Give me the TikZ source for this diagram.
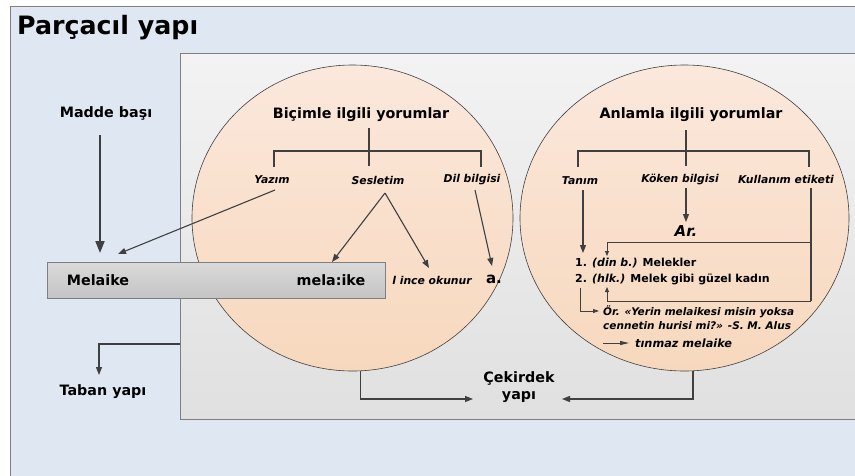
\documentclass[tikz,border=0pt]{standalone}
\usepackage{fontspec}
\setmainfont{DejaVu Sans}
\usetikzlibrary{arrows.meta,shapes.geometric}
\definecolor{bluebg}{HTML}{DFE8F2}
\definecolor{frame}{HTML}{7F7F7F}
\definecolor{ink}{HTML}{404040}
\definecolor{peachtop}{HTML}{FBE8DC}
\definecolor{peachbot}{HTML}{F7D8BD}
\definecolor{graytop}{HTML}{F3F3F3}
\definecolor{graybot}{HTML}{E0E0E0}
\definecolor{boxtop}{HTML}{DADADA}
\definecolor{boxbot}{HTML}{C4C4C4}
\tikzset{
  lbl/.style={font=\bfseries\fontsize{14.3}{17}\selectfont, text=black, inner sep=1pt},
  sm/.style={font=\bfseries\itshape\fontsize{10.8}{13}\selectfont, text=black, inner sep=1pt},
  arr/.style={draw=ink, line width=1.1pt, -{Triangle[length=8pt,width=6pt]}},
  tree/.style={draw=ink, line width=1.8pt},
  conn/.style={draw=ink, line width=1.1pt},
  circ/.style={ellipse, draw=ink, line width=0.6pt, top color=peachtop, bottom color=peachbot, inner sep=0pt}
}
\begin{document}
\begin{tikzpicture}[x=1pt,y=-1pt]
\useasboundingbox (0,0) rectangle (855,475);
\fill[white] (0,0) rectangle (855,475);
% outer frame
\fill[bluebg] (10,6) rectangle (870,490);
\draw[frame, line width=1pt] (10,490) -- (10,6) -- (870,6);
% inner gray box
\shade[top color=graytop, bottom color=graybot] (180,53) rectangle (870,419);
\draw[frame, line width=1pt] (870,53) -- (180,53) -- (180,419) -- (870,419);
\node[font=\bfseries\fontsize{25.3}{30}\selectfont, anchor=west, inner sep=0pt] (title) at (17,28) {Parçacıl yapı};
% circles
\node[circ, minimum width=321pt, minimum height=306pt] (c1) at (352.5,218) {};
\node[circ, minimum width=329pt, minimum height=306pt] (c2) at (684.5,218) {};
% left side
\node[lbl] (madde) at (106,113) {Madde başı};
\coordinate (mtop) at (100,135);
\coordinate (mtip) at (100,253);
\draw[arr, line width=2pt, -{Triangle[length=12pt,width=9pt]}] (mtop) -- (mtip);
% Melaike box
\node[draw=frame, line width=1pt, top color=boxtop, bottom color=boxbot, minimum width=338pt, minimum height=36pt, inner sep=0pt] (box) at (216,280) {};
\node[lbl] (melaike) at (98,280) {Melaike};
\node[lbl] (melaike2) at (331,280) {mela:ike};
% Taban
\node[lbl] (taban) at (103,392) {Taban yapı};
\coordinate (innerL) at (180,344);
\coordinate (tbtip) at (99,375);
\draw[arr] (innerL) -| (tbtip);
% Biçimle tree
\node[lbl] (bic) at (361,115) {Biçimle ilgili yorumlar};
\node[sm] (yazim) at (272,180) {Yazım};
\node[sm] (ses) at (378,180) {Sesletim};
\node[sm] (dil) at (472,180) {Dil bilgisi};
\draw[tree] (369,128) -- (369,166);
\draw[tree] (274,167) -- (274,151) -- (481,151) -- (481,167);
\node[sm] (ince) at (432,280) {l ince okunur};
\node[font=\bfseries\fontsize{15}{18}\selectfont, inner sep=1pt] (a) at (494,279) {a.};
\coordinate (ytip) at (118,254);
\draw[arr] (275,190) -- (ytip);
\coordinate (sapex) at (385,193);
\coordinate (stip1) at (332,262);
\coordinate (stip2) at (429,268);
\draw[arr] (sapex) -- (stip1);
\draw[arr] (sapex) -- (stip2);
\coordinate (dtop) at (475,190);
\coordinate (dtip) at (492,266);
\draw[arr] (dtop) -- (dtip);
% Çekirdek
\node[lbl, align=center] (cek) at (519,387) {Çekirdek\\yapı};
\coordinate (ck1) at (473,399);
\coordinate (ck2) at (562,399);
\draw[arr] ([xshift=8pt]c1.south) |- (ck1);
\draw[arr] ([xshift=8.5pt]c2.south) |- (ck2);
% Anlamla tree
\node[lbl] (anl) at (691,115) {Anlamla ilgili yorumlar};
\draw[tree] (686,130) -- (686,166);
\draw[tree] (578,167) -- (578,151) -- (809,151) -- (809,167);
\node[sm] (tanim) at (580,181) {Tanım};
\node[sm] (koken) at (680,179) {Köken bilgisi};
\node[sm] (kull) at (786,179) {Kullanım etiketi};
\node[font=\bfseries\itshape\fontsize{15}{18}\selectfont, inner sep=1pt] (ar) at (686,231) {Ar.};
\coordinate (ttop) at (583,190);
\coordinate (ttip) at (583,253);
\draw[arr] (ttop) -- (ttip);
\coordinate (ktop) at (686,188);
\coordinate (ktip) at (686,222);
\draw[arr] (ktop) -- (ktip);
\node[font=\bfseries\fontsize{11}{13}\selectfont, anchor=west, inner sep=0pt] (def1) at (575,263) {1. \textit{(din b.)} Melekler};
\node[font=\bfseries\fontsize{11}{13}\selectfont, anchor=west, inner sep=0pt] (def2) at (575,279) {2. \textit{(hlk.)} Melek gibi güzel kadın};
\coordinate (u0) at (811,188);
\coordinate (u1) at (811,242);
\coordinate (u2) at (811,301);
\coordinate (utip1) at (607,256);
\coordinate (utip2) at (607,287);
\draw[conn] (u0) -- (u2);
\draw[arr, line width=0.9pt, -{Triangle[length=5pt,width=4pt]}] (u1) -| (utip1);
\draw[arr, line width=0.9pt, -{Triangle[length=5pt,width=4pt]}] (u2) -| (utip2);
\coordinate (o0) at (580,288);
\coordinate (otip) at (599,311);
\draw[arr, line width=0.9pt, -{Triangle[length=6pt,width=4pt]}] (o0) |- (otip);
\node[anchor=west, align=left, inner sep=0pt, font=\bfseries\itshape\fontsize{10.5}{14}\selectfont] (ornek) at (603,318) {Ör. «Yerin melaikesi misin yoksa\\cennetin hurisi mi?» -S. M. Alus};
\coordinate (t0) at (603,343);
\coordinate (ttip2) at (629,343);
\draw[arr, line width=0.9pt, -{Triangle[length=9pt,width=4pt]}] (t0) -- (ttip2);
\node[anchor=west, inner sep=0pt, font=\bfseries\itshape\fontsize{11.3}{14}\selectfont] (tinmaz) at (635,343) {tınmaz melaike};
\end{tikzpicture}
\end{document}
